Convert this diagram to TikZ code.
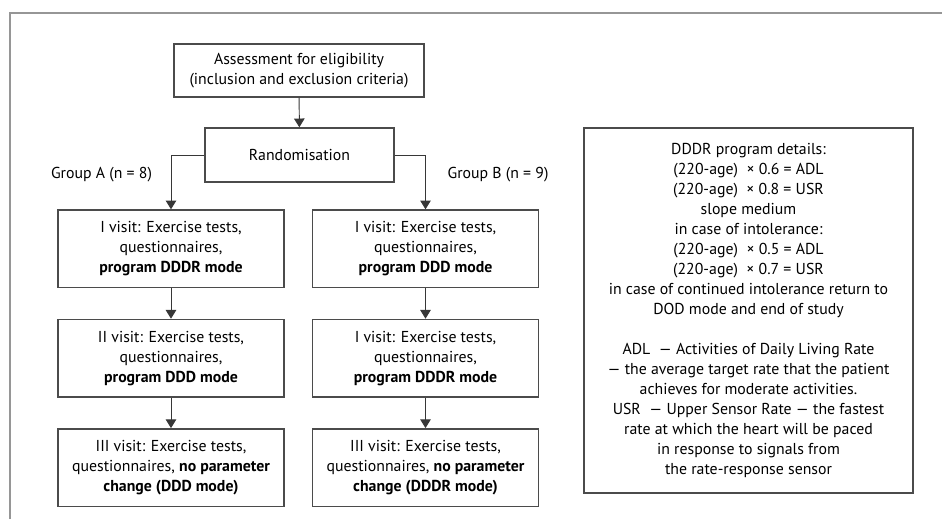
\documentclass[tikz,border=0pt]{standalone}
\usepackage{fontspec}
\setmainfont{PT Sans}
\usepackage{tikz}
\usetikzlibrary{arrows.meta, positioning}
\definecolor{framegray}{RGB}{150,150,150}
\definecolor{boxgray}{RGB}{75,75,75}
\definecolor{linegray}{RGB}{55,55,55}

\begin{document}
\begin{tikzpicture}[
    font=\fontsize{9}{11.4}\selectfont,
    flowbox/.style={rectangle, draw=boxgray, line width=0.8pt, align=center, inner sep=2pt},
    visitbox/.style={flowbox, minimum width=4.52cm, minimum height=1.55cm},
    flowarrow/.style={draw=linegray, line width=0.55pt, -{Triangle[length=5pt, width=6pt]}}
  ]
  \useasboundingbox (0,0) rectangle (18.84,-10.38);
  % frame of the figure
  \draw[framegray, line width=1.1pt] (0.2,-10.38) -- (0.2,-0.26) -- (18.84,-0.26);

  \node[flowbox, minimum width=5cm, minimum height=1.06cm] (assess) at (5.98,-1.41) {
    Assessment for eligibility \\
    (inclusion and exclusion criteria)
  };
  \node[flowbox, minimum width=3.78cm, minimum height=1.08cm] (random) at (5.99,-3.1) {Randomisation};

  % group A
  \node[visitbox] (a1) at (3.42,-4.975) {
    I visit: Exercise tests, \\
    questionnaires, \\
    \textbf{program DDDR mode}
  };
  \node[visitbox, below=0.61cm of a1] (a2) {
    II visit: Exercise tests, \\
    questionnaires, \\
    \textbf{program DDD mode}
  };
  \node[visitbox, below=0.61cm of a2] (a3) {
    III visit: Exercise tests, \\
    questionnaires, \textbf{no parameter} \\
    \textbf{change (DDD mode)}
  };

  % group B
  \node[visitbox] (b1) at (8.51,-4.975) {
    I visit: Exercise tests, \\
    questionnaires, \\
    \textbf{program DDD mode}
  };
  \node[visitbox, below=0.61cm of b1] (b2) {
    I visit: Exercise tests, \\
    questionnaires, \\
    \textbf{program DDDR mode}
  };
  \node[visitbox, below=0.61cm of b2] (b3) {
    III visit: Exercise tests, \\
    questionnaires, \textbf{no parameter} \\
    \textbf{change (DDDR mode)}
  };

  \node (grpA) at (2.03,-3.5) {Group A (n = 8)};
  \node (grpB) at (9.96,-3.5) {Group B (n = 9)};

  % program details
  \node[flowbox, minimum width=6.58cm, minimum height=7.3cm] (details) at (14.97,-6.21) {
    DDDR program details: \\
    (220-age)~ × 0.6 = ADL \\
    (220-age)~ × 0.8 = USR \\
    slope medium \\
    in case of intolerance: \\
    (220-age)~ × 0.5 = ADL \\
    (220-age)~ × 0.7 = USR \\
    in case of continued intolerance return to \\
    DOD mode and end of study \\[11.4pt]
    ADL~ — Activities of Daily Living Rate \\
    — the average target rate that the patient \\
    achieves for moderate activities. \\
    USR~ — Upper Sensor Rate — the fastest \\
    rate at which the heart will be paced \\
    in response to signals from \\
    the rate-response sensor
  };

  \draw[flowarrow] (assess) -- (random);
  \draw[flowarrow] (random.west) -| (a1.north);
  \draw[flowarrow] (random.east) -| (b1.north);
  \draw[flowarrow] (a1) -- (a2);
  \draw[flowarrow] (a2) -- (a3);
  \draw[flowarrow] (b1) -- (b2);
  \draw[flowarrow] (b2) -- (b3);
\end{tikzpicture}
\end{document}
